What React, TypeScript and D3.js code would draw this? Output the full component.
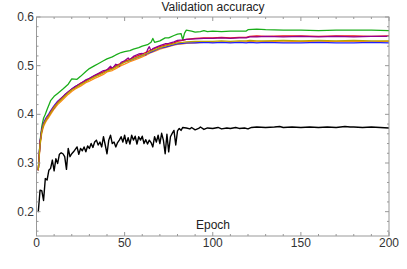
import React from 'react'
import * as d3 from 'd3'

// epochs sampled for the smooth runs
const epochs = [1, 2, 3, 4, 5, 6, 7, 8, 10, 12, 14, 16, 18, 20, 22, 25, 28, 30, 33, 35, 38, 40, 43, 45, 48, 50, 53, 55, 58, 60, 63, 65, 68, 70, 73, 75, 78, 80, 83, 85, 90, 95, 100, 105, 110, 115, 119, 121, 125, 130, 140, 150, 160, 170, 180, 190, 200]

const purpleEpochs = [1, 2, 3, 4, 5, 6, 7, 8, 10, 12, 14, 16, 18, 20, 22, 25, 28, 30, 33, 35, 38, 40, 42, 43, 45, 47, 48, 50, 52, 53, 55, 58, 60, 62, 63, 64, 65, 66, 68, 70, 73, 75, 78, 80, 83, 85, 90, 95, 100, 105, 110, 115, 119, 121, 125, 130, 140, 150, 160, 170, 180, 190, 200]
const purpleVals = [0.285, 0.342, 0.368, 0.380, 0.388, 0.392, 0.399, 0.404, 0.413, 0.424, 0.432, 0.440, 0.446, 0.452, 0.457, 0.463, 0.471, 0.474, 0.480, 0.484, 0.490, 0.491, 0.499, 0.494, 0.503, 0.499, 0.507, 0.510, 0.516, 0.512, 0.519, 0.524, 0.525, 0.522, 0.533, 0.539, 0.530, 0.535, 0.538, 0.541, 0.545, 0.546, 0.549, 0.552, 0.553, 0.554, 0.555, 0.556, 0.556, 0.557, 0.556, 0.557, 0.557, 0.559, 0.559, 0.560, 0.559, 0.560, 0.559, 0.560, 0.559, 0.560, 0.560]
const redVals = [0.285, 0.341, 0.367, 0.380, 0.387, 0.394, 0.398, 0.405, 0.416, 0.425, 0.433, 0.438, 0.446, 0.451, 0.456, 0.464, 0.469, 0.473, 0.479, 0.483, 0.487, 0.492, 0.495, 0.500, 0.505, 0.509, 0.513, 0.517, 0.521, 0.524, 0.529, 0.532, 0.537, 0.539, 0.542, 0.544, 0.547, 0.550, 0.552, 0.554, 0.556, 0.557, 0.557, 0.558, 0.557, 0.558, 0.558, 0.560, 0.561, 0.560, 0.561, 0.561, 0.560, 0.561, 0.561, 0.560, 0.561]
const blueVals = [0.285, 0.343, 0.369, 0.382, 0.390, 0.396, 0.401, 0.407, 0.418, 0.427, 0.433, 0.440, 0.446, 0.452, 0.457, 0.463, 0.469, 0.473, 0.479, 0.482, 0.487, 0.491, 0.495, 0.499, 0.504, 0.508, 0.511, 0.514, 0.518, 0.521, 0.525, 0.528, 0.533, 0.536, 0.538, 0.540, 0.543, 0.545, 0.546, 0.547, 0.547, 0.548, 0.547, 0.548, 0.547, 0.548, 0.547, 0.548, 0.547, 0.548, 0.547, 0.547, 0.548, 0.547, 0.547, 0.548, 0.547]
const orangeVals = [0.285, 0.335, 0.362, 0.375, 0.383, 0.389, 0.394, 0.400, 0.411, 0.420, 0.427, 0.434, 0.441, 0.447, 0.452, 0.458, 0.465, 0.468, 0.474, 0.477, 0.482, 0.487, 0.490, 0.494, 0.500, 0.503, 0.508, 0.511, 0.515, 0.518, 0.523, 0.527, 0.531, 0.534, 0.537, 0.539, 0.542, 0.544, 0.545, 0.546, 0.547, 0.548, 0.548, 0.549, 0.548, 0.549, 0.549, 0.550, 0.549, 0.550, 0.549, 0.550, 0.549, 0.550, 0.550, 0.549, 0.550]
const oliveVals = [0.285, 0.338, 0.365, 0.378, 0.386, 0.392, 0.397, 0.403, 0.414, 0.423, 0.430, 0.437, 0.444, 0.450, 0.454, 0.461, 0.467, 0.471, 0.477, 0.480, 0.485, 0.489, 0.493, 0.497, 0.503, 0.507, 0.511, 0.514, 0.518, 0.521, 0.526, 0.530, 0.534, 0.537, 0.540, 0.542, 0.545, 0.547, 0.548, 0.549, 0.550, 0.550, 0.550, 0.551, 0.550, 0.551, 0.551, 0.552, 0.551, 0.551, 0.552, 0.551, 0.552, 0.551, 0.552, 0.551, 0.551]

const greenEpochs = [1, 2, 3, 4, 5, 6, 8, 10, 12, 15, 18, 20, 23, 25, 28, 30, 33, 35, 38, 40, 43, 45, 48, 50, 53, 55, 58, 60, 63, 65, 66, 67, 70, 73, 75, 78, 80, 82, 83, 84, 85, 88, 90, 93, 95, 97, 100, 105, 110, 115, 119, 120, 125, 130, 140, 150, 160, 170, 180, 190, 200]
const greenVals = [0.285, 0.345, 0.375, 0.392, 0.400, 0.410, 0.428, 0.437, 0.443, 0.452, 0.462, 0.473, 0.472, 0.478, 0.488, 0.494, 0.500, 0.504, 0.510, 0.514, 0.518, 0.522, 0.527, 0.529, 0.531, 0.534, 0.537, 0.540, 0.543, 0.548, 0.556, 0.548, 0.551, 0.557, 0.557, 0.562, 0.565, 0.566, 0.553, 0.567, 0.573, 0.571, 0.569, 0.570, 0.572, 0.570, 0.571, 0.570, 0.571, 0.571, 0.571, 0.574, 0.575, 0.574, 0.573, 0.573, 0.572, 0.573, 0.573, 0.573, 0.572]

const blackEpochs = [1, 2, 3, 4, 5, 6, 7, 8, 9, 10, 11, 12, 13, 14, 15, 16, 17, 18, 19, 20, 21, 22, 23, 24, 25, 26, 27, 28, 29, 30, 31, 32, 33, 34, 35, 36, 37, 38, 39, 40, 41, 42, 43, 44, 45, 46, 47, 48, 49, 50, 51, 52, 53, 54, 55, 56, 57, 58, 59, 60, 61, 62, 63, 64, 65, 66, 67, 68, 69, 70, 71, 72, 73, 74, 75, 76, 77, 78, 79, 80, 81, 82, 83, 85, 87, 88, 90, 92, 93, 95, 97, 100, 103, 105, 108, 110, 113, 115, 118, 120, 122, 125, 130, 135, 138, 140, 145, 150, 155, 160, 165, 170, 175, 178, 180, 185, 190, 195, 200]
const blackVals = [0.199, 0.244, 0.243, 0.223, 0.268, 0.265, 0.285, 0.289, 0.306, 0.284, 0.309, 0.299, 0.318, 0.321, 0.319, 0.313, 0.287, 0.330, 0.313, 0.319, 0.323, 0.328, 0.333, 0.318, 0.330, 0.325, 0.333, 0.323, 0.335, 0.330, 0.340, 0.332, 0.343, 0.347, 0.337, 0.343, 0.333, 0.354, 0.337, 0.319, 0.347, 0.357, 0.340, 0.343, 0.333, 0.342, 0.347, 0.354, 0.343, 0.357, 0.340, 0.352, 0.339, 0.357, 0.347, 0.355, 0.339, 0.354, 0.347, 0.355, 0.340, 0.348, 0.339, 0.347, 0.342, 0.333, 0.354, 0.343, 0.357, 0.340, 0.361, 0.347, 0.319, 0.359, 0.323, 0.354, 0.361, 0.367, 0.337, 0.366, 0.371, 0.367, 0.373, 0.372, 0.370, 0.373, 0.368, 0.371, 0.374, 0.369, 0.372, 0.371, 0.373, 0.370, 0.372, 0.371, 0.373, 0.371, 0.372, 0.370, 0.373, 0.374, 0.373, 0.374, 0.375, 0.373, 0.374, 0.373, 0.374, 0.373, 0.374, 0.373, 0.375, 0.374, 0.374, 0.373, 0.374, 0.373, 0.372]

const xTicks = [0, 50, 100, 150, 200]
const yTicks = [0.2, 0.3, 0.4, 0.5, 0.6]

const series = [
  { name: 'black', color: '#000000', xs: blackEpochs, ys: blackVals, w: 1.4 },
  { name: 'green', color: '#1aad1a', xs: greenEpochs, ys: greenVals, w: 1.3 },
  { name: 'orange', color: '#ff8c1a', xs: epochs, ys: orangeVals, w: 1.3 },
  { name: 'blue', color: '#2020ff', xs: epochs, ys: blueVals, w: 1.3 },
  { name: 'red', color: '#ee1c1c', xs: epochs, ys: redVals, w: 1.3 },
  { name: 'purple', color: '#900090', xs: purpleEpochs, ys: purpleVals, w: 1.3 },
  { name: 'olive', color: '#b8a400', xs: epochs, ys: oliveVals, w: 1.3 },
]

export default function App() {
  const width = 407
  const height = 269
  const left = 36.5, right = 389, top = 17, bottom = 236

  const x = d3.scaleLinear().domain([0, 200]).range([left, right])
  const y = d3.scaleLinear().domain([0.15, 0.6]).range([bottom, top])

  const line = d3.line<[number, number]>()
    .x(d => x(d[0]))
    .y(d => y(d[1]))

  const xMinor = d3.range(0, 201, 10)
  const yMinor = d3.range(16, 61, 2).map(v => v / 100)
  const tickColor = '#999'
  const font = 'Liberation Sans, Arial, sans-serif'

  return (
    <svg width={width} height={height} style={{ position: 'absolute', left: 0, top: 0, background: '#fff' }}>
      <defs>
        <clipPath id="plot">
          <rect x={left} y={top} width={right - left} height={bottom - top} />
        </clipPath>
      </defs>
      <g clipPath="url(#plot)">
        {series.map(s => (
          <path key={s.name}
            d={line(s.xs.map((e, i) => [e, s.ys[i]] as [number, number])) || ''}
            fill="none" stroke={s.color} strokeWidth={s.w} strokeLinejoin="round" />
        ))}
      </g>
      {/* frame */}
      <rect x={left} y={top} width={right - left} height={bottom - top} fill="none" stroke={tickColor} strokeWidth={1} />
      {/* minor + major ticks, all four sides */}
      {xMinor.map(t => {
        const major = t % 50 === 0
        const len = major ? 4 : 2
        return (
          <g key={'x' + t} stroke={tickColor}>
            <line x1={x(t)} x2={x(t)} y1={bottom} y2={bottom - len} />
            <line x1={x(t)} x2={x(t)} y1={top} y2={top + len} />
          </g>
        )
      })}
      {yMinor.map(t => {
        const major = Math.round(t * 100) % 10 === 0
        const len = major ? 4 : 2
        return (
          <g key={'y' + t} stroke={tickColor}>
            <line x1={left} x2={left + len} y1={y(t)} y2={y(t)} />
            <line x1={right} x2={right - len} y1={y(t)} y2={y(t)} />
          </g>
        )
      })}
      {xTicks.map(t => (
        <text key={'xl' + t} x={x(t)} y={247} textAnchor="middle" fontFamily={font} fontSize={12} fill="#333">{t}</text>
      ))}
      {yTicks.map(t => (
        <text key={'yl' + t} x={34} y={y(t) + 4} textAnchor="end" fontFamily={font} fontSize={12} fill="#333">{t.toFixed(1)}</text>
      ))}
      <text x={213} y={11} textAnchor="middle" fontFamily={font} fontSize={12} fill="#222">Validation accuracy</text>
      <text x={213} y={228.5} textAnchor="middle" fontFamily={font} fontSize={12} fill="#222">Epoch</text>
    </svg>
  )
}
